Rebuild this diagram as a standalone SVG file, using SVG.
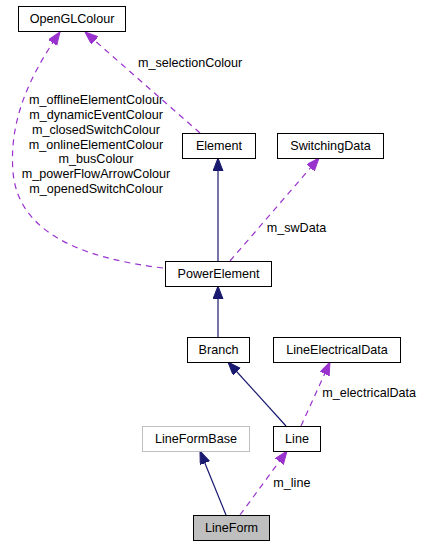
<svg xmlns="http://www.w3.org/2000/svg" width="425" height="547" viewBox="0 0 425 547">
<style>
text{font-family:"Liberation Sans",Arial,sans-serif;font-size:12.6px;fill:#000}
.box{fill:#fff;stroke:#000;stroke-width:1}
.nm{text-anchor:middle}
.inh{fill:none;stroke:#191970;stroke-width:1.2}
.use{fill:none;stroke:#9a32cd;stroke-width:1.2;stroke-dasharray:6,5}
</style>
<defs>
<marker id="aInh" markerUnits="userSpaceOnUse" markerWidth="14" markerHeight="12" refX="13" refY="5" orient="auto">
<path d="M0,0 L13,5 L0,10 z" fill="#191970" stroke="#191970"/>
</marker>
<marker id="aUse" markerUnits="userSpaceOnUse" markerWidth="14" markerHeight="12" refX="13" refY="5" orient="auto">
<path d="M0,0 L13,5 L0,10 z" fill="#9a32cd" stroke="#9a32cd"/>
</marker>
</defs>
<g id="connectors">
<path class="use" d="M200,133 L85,32" marker-end="url(#aUse)"/>
<path class="use" d="M163,268 C80,258 18,232 13,172 C9,122 28,78 60,32" marker-end="url(#aUse)"/>
<path class="use" d="M230,261 L319,158" marker-end="url(#aUse)"/>
<path class="use" d="M301,426 L330,362" marker-end="url(#aUse)"/>
<path class="use" d="M240,515 L287,451" marker-end="url(#aUse)"/>
<path class="inh" d="M218,261 L218,158" marker-end="url(#aInh)"/>
<path class="inh" d="M218,337 L218,286" marker-end="url(#aInh)"/>
<path class="inh" d="M286,426 L228,362" marker-end="url(#aInh)"/>
<path class="inh" d="M226,515 L200,451" marker-end="url(#aInh)"/>
<text x="138" y="67">m_selectionColour</text>
<g class="nm">
<text x="96" y="104.3">m_offlineElementColour</text>
<text x="96" y="119">m_dynamicEventColour</text>
<text x="96" y="133.8">m_closedSwitchColour</text>
<text x="96" y="148.5">m_onlineElementColour</text>
<text x="96" y="163.2">m_busColour</text>
<text x="96" y="177.9">m_powerFlowArrowColour</text>
<text x="96" y="192.6">m_openedSwitchColour</text>
</g>
<text x="266.7" y="232.3">m_swData</text>
<text x="322.3" y="396.7">m_electricalData</text>
<text x="273.3" y="486.7">m_line</text>
</g>
<g id="OpenGLColour"><rect class="box" x="18.5" y="6.5" width="107" height="25"/><text class="nm" x="72" y="23">OpenGLColour</text></g>
<g id="Element"><rect class="box" x="182.5" y="133.5" width="73" height="25"/><text class="nm" x="219" y="149.5">Element</text></g>
<g id="SwitchingData"><rect class="box" x="277.5" y="133.5" width="106" height="25"/><text class="nm" x="330.5" y="149.5">SwitchingData</text></g>
<g id="PowerElement"><rect class="box" x="165.5" y="261.5" width="106" height="25"/><text class="nm" x="218.5" y="277.5">PowerElement</text></g>
<g id="Branch"><rect class="box" x="187.5" y="337.5" width="62" height="25"/><text class="nm" x="218.5" y="353.5">Branch</text></g>
<g id="LineElectricalData"><rect class="box" x="273.5" y="337.5" width="127" height="25"/><text class="nm" x="337" y="353.5">LineElectricalData</text></g>
<g id="LineFormBase"><rect class="box" style="stroke:#bfbfbf" x="142.5" y="426.5" width="107" height="25"/><text class="nm" x="196" y="442.5">LineFormBase</text></g>
<g id="Line"><rect class="box" x="273.5" y="426.5" width="47" height="25"/><text class="nm" x="297" y="442.5">Line</text></g>
<g id="LineForm"><rect class="box" style="fill:#bfbfbf" x="193.5" y="515.5" width="76" height="25"/><text class="nm" x="231.5" y="531.5">LineForm</text></g>
</svg>
